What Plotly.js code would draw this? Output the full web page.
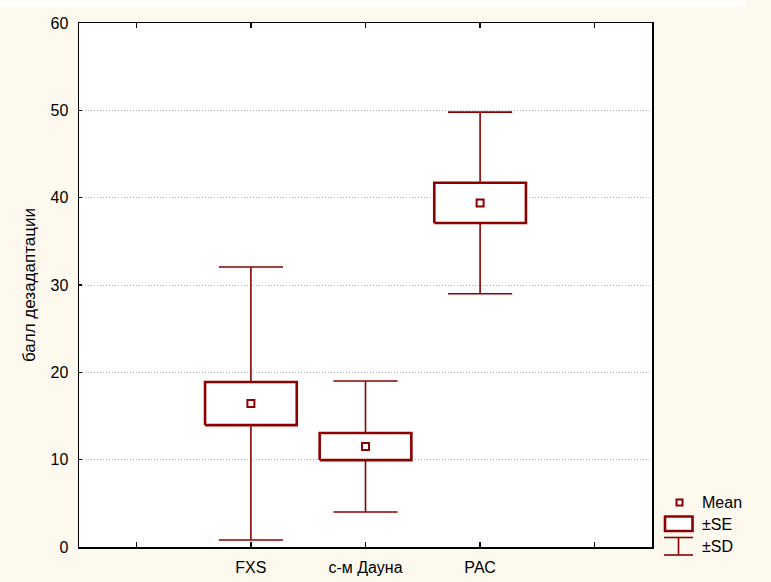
<!DOCTYPE html>
<html>
<head>
<meta charset="utf-8">
<script src="https://cdn.plot.ly/plotly-3.0.1.min.js"></script>
<style>html,body{margin:0;padding:0;background:#FDF9EF;}</style>
</head>
<body>
<div id="chart" style="width:771px;height:582px;"></div>
<script>
// Data
const categories = ['FXS', 'с-м Дауна', 'РАС'];
const means = [16.43, 11.5, 39.4];
const se = [2.47, 1.55, 2.3];
const sd = [15.63, 7.5, 10.4];
const yTickVals = [0, 10, 20, 30, 40, 50, 60];
const legendLabels = ['Mean', '±SE', '±SD'];

const RED = '#8B0000';
const BOX_HALF = 0.4;
const CAP_HALF = 0.28;
const pos = categories.map((c, i) => i + 2);

// plot-area geometry (pixels) used to place the hand-built legend
const W = 771, H = 582, ML = 79, MR = 119, MT = 23, MB = 35;
const PW = W - ML - MR, PH = H - MT - MB;
const px = v => (v - ML) / PW;          // pixel x -> paper x
const py = v => (H - MB - v) / PH;      // pixel y -> paper y

// ±SD whiskers
const sdX = [], sdY = [];
categories.forEach((c, i) => {
  const x = pos[i], m = means[i];
  sdX.push(x, x, null, x - CAP_HALF, x + CAP_HALF, null, x - CAP_HALF, x + CAP_HALF, null);
  sdY.push(m - sd[i], m + sd[i], null, m + sd[i], m + sd[i], null, m - sd[i], m - sd[i], null);
});

// ±SE boxes
const seX = [], seY = [];
categories.forEach((c, i) => {
  const x = pos[i], m = means[i];
  seX.push(x - BOX_HALF, x + BOX_HALF, x + BOX_HALF, x - BOX_HALF, x - BOX_HALF, null);
  seY.push(m - se[i], m - se[i], m + se[i], m + se[i], m - se[i], null);
});

const traces = [
  {
    x: sdX, y: sdY, type: 'scatter', mode: 'lines', name: legendLabels[2],
    line: {color: RED, width: 1.6}, hoverinfo: 'skip', showlegend: false
  },
  {
    x: seX, y: seY, type: 'scatter', mode: 'lines', name: legendLabels[1], fill: 'toself',
    fillcolor: '#FFFFFF', line: {color: RED, width: 2.6}, hoverinfo: 'skip', showlegend: false
  },
  {
    x: pos, y: means, type: 'scatter', mode: 'markers', name: legendLabels[0],
    marker: {symbol: 'square-open', size: 7, color: RED, line: {color: RED, width: 2}},
    showlegend: false
  }
];

// hand-built legend (symbols like the original)
const lineOf = (x0, y0, x1, y1, w) => ({type: 'line', xref: 'paper', yref: 'paper',
  x0: px(x0), y0: py(y0), x1: px(x1), y1: py(y1), line: {color: RED, width: w}});
const shapes = [
  {type: 'rect', xref: 'paper', yref: 'paper', x0: px(0), x1: px(747), y0: py(0), y1: py(7),
   fillcolor: '#FFFEFA', line: {width: 0}, layer: 'below'},
  {type: 'rect', xref: 'paper', yref: 'paper', x0: px(676.5), x1: px(682.5), y0: py(505.5), y1: py(499.5),
   line: {color: RED, width: 2}, fillcolor: '#FFFFFF'},
  {type: 'rect', xref: 'paper', yref: 'paper', x0: px(665), x1: px(692.5), y0: py(531), y1: py(516.5),
   line: {color: RED, width: 2.6}, fillcolor: '#FFFFFF'},
  lineOf(664, 537.5, 693, 537.5, 1.6),
  lineOf(664, 555, 693, 555, 1.6),
  lineOf(678.5, 537.5, 678.5, 555, 1.6)
];
const legendY = [502.5, 524, 546];
const annotations = legendLabels.map((t, i) => ({
  text: t, xref: 'paper', yref: 'paper', x: px(700), y: py(legendY[i]),
  xanchor: 'left', yanchor: 'middle', showarrow: false,
  font: {size: 16, color: '#000'}
}));

const layout = {
  width: W, height: H,
  paper_bgcolor: '#FDF9EF',
  plot_bgcolor: '#FFFFFF',
  margin: {l: ML, r: MR, t: MT, b: MB, pad: 0},
  font: {family: 'Liberation Sans, Arial, sans-serif', size: 16, color: '#000'},
  showlegend: false,
  shapes: shapes,
  annotations: annotations,
  xaxis: {
    range: [0.5, 5.5],
    tickvals: [1, 2, 3, 4, 5],
    ticktext: ['', categories[0], categories[1], categories[2], ''],
    ticks: 'inside', ticklen: 5, tickwidth: 1.5, tickcolor: '#000',
    showline: true, linecolor: '#000', linewidth: 1.5, mirror: 'ticks',
    showgrid: false, zeroline: false, fixedrange: true,
    tickfont: {size: 16}, ticklabelstandoff: 5
  },
  yaxis: {
    range: [0, 60],
    tickvals: yTickVals,
    ticks: 'inside', ticklen: 3, tickwidth: 1.5, tickcolor: '#000',
    showline: true, linecolor: '#000', linewidth: 1.5, mirror: true,
    showgrid: true, gridcolor: '#B0B0B0', griddash: '1px,2px', gridwidth: 1,
    zeroline: false, fixedrange: true,
    tickfont: {size: 16}, ticklabelstandoff: 6,
    title: {text: 'балл дезадаптации', font: {size: 17}, standoff: 10}
  }
};

Plotly.newPlot('chart', traces, layout, {displayModeBar: false, staticPlot: true});
</script>
</body>
</html>
